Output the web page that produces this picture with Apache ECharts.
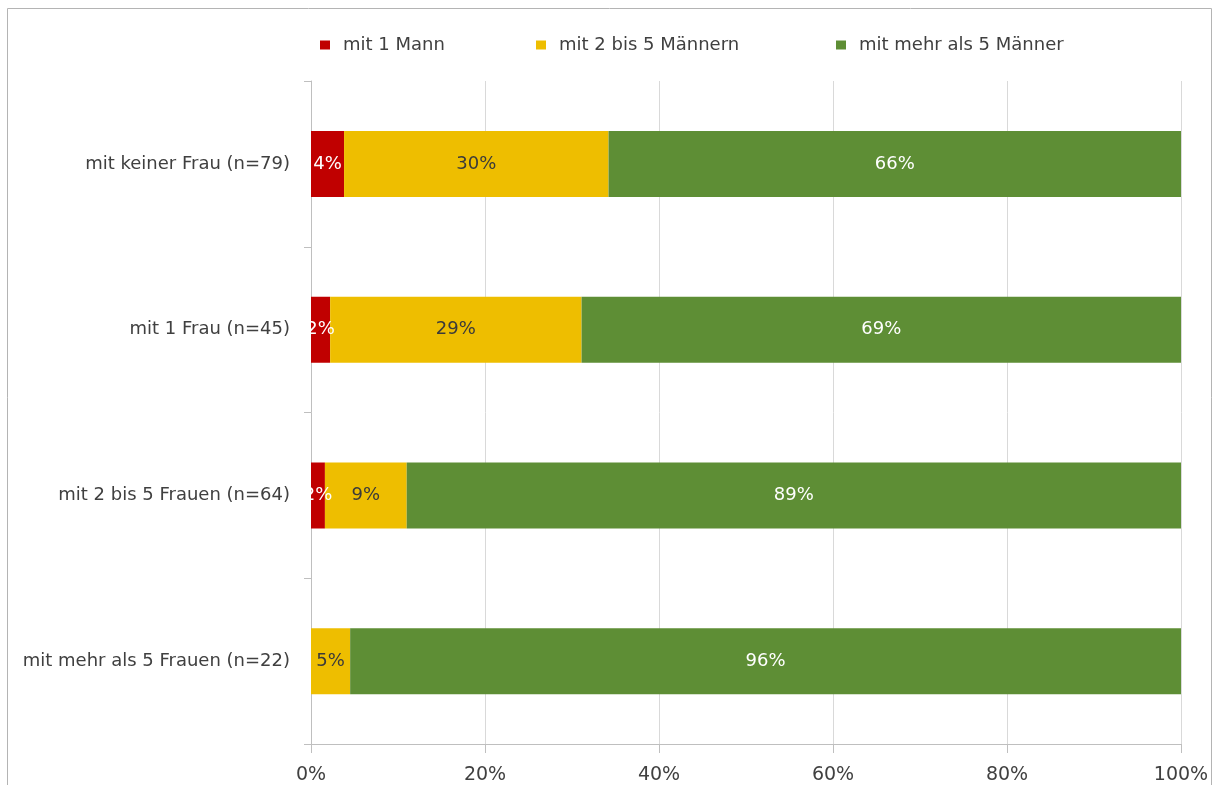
<!DOCTYPE html>
<html>
<head>
<meta charset="utf-8">
<title>Sexualpartner</title>
<script src="https://cdn.jsdelivr.net/npm/echarts@6/dist/echarts.min.js"></script>
<style>
  html, body { margin: 0; padding: 0; background: #ffffff; }
  #chart { width: 1217px; height: 785px; }
</style>
</head>
<body>
<div id="chart"></div>
<script>
// Categories (top to bottom) and shares in percent per group of partners
const categories = [
  'mit keiner Frau (n=79)',
  'mit 1 Frau (n=45)',
  'mit 2 bis 5 Frauen (n=64)',
  'mit mehr als 5 Frauen (n=22)'
];
const seriesNames = ['mit 1 Mann', 'mit 2 bis 5 Männern', 'mit mehr als 5 Männer'];
const einMann = [3.8, 2.2, 1.6, 0];
const zweiBisFuenf = [30.4, 28.9, 9.4, 4.5];
const mehrAlsFuenf = [65.8, 68.9, 89.0, 95.5];
const xTicks = [0, 20, 40, 60, 80, 100];

const colors = ['#C00000', '#EEBE00', '#5E8E35'];
const labelColors = ['#ffffff', '#3a3a3a', '#ffffff'];
const FONT = '"DejaVu Sans", "Open Sans", sans-serif';

const chart = echarts.init(document.getElementById('chart'), null, { renderer: 'canvas' });

function pct(p) {
  return p.value > 0 ? Math.round(p.value) + '%' : '';
}

const values = [einMann, zweiBisFuenf, mehrAlsFuenf];
const legendLeft = [320, 536, 836];

chart.setOption({
  animation: false,
  graphic: [{
    type: 'rect',
    shape: { x: 7.5, y: 8.5, width: 1204, height: 800 },
    style: { fill: 'none', stroke: '#b4b4b4', lineWidth: 1 },
    silent: true
  }],
  legend: seriesNames.map((n, i) => ({
    data: [n],
    left: legendLeft[i],
    top: 36,
    padding: 0,
    itemWidth: 10,
    itemHeight: 9,
    icon: 'rect',
    textStyle: { fontFamily: FONT, fontSize: 18, color: '#404040', padding: [0, 0, 0, 8] }
  })),
  grid: { left: 311, right: 36, top: 81, bottom: 41, containLabel: false },
  xAxis: {
    type: 'value',
    min: xTicks[0],
    max: xTicks[xTicks.length - 1],
    interval: 20,
    axisLine: { show: true, lineStyle: { color: '#bfbfbf' } },
    axisTick: { show: true, length: 9, lineStyle: { color: '#bfbfbf' } },
    splitLine: { show: true, lineStyle: { color: '#d9d9d9' } },
    axisLabel: {
      margin: 22,
      fontFamily: FONT, fontSize: 19, color: '#404040',
      formatter: v => v + '%'
    }
  },
  yAxis: {
    type: 'category',
    data: categories,
    inverse: true,
    axisLine: { show: true, lineStyle: { color: '#bfbfbf' } },
    axisTick: { show: true, length: 7, lineStyle: { color: '#bfbfbf' } },
    axisLabel: { margin: 21, fontFamily: FONT, fontSize: 18, color: '#404040' }
  },
  series: seriesNames.map((n, i) => ({
    name: n,
    type: 'bar',
    stack: 'total',
    barWidth: 66,
    data: values[i],
    itemStyle: { color: colors[i] },
    label: {
      show: true,
      position: 'inside',
      formatter: pct,
      fontFamily: FONT,
      fontSize: 18,
      color: labelColors[i]
    }
  }))
});
</script>
</body>
</html>
